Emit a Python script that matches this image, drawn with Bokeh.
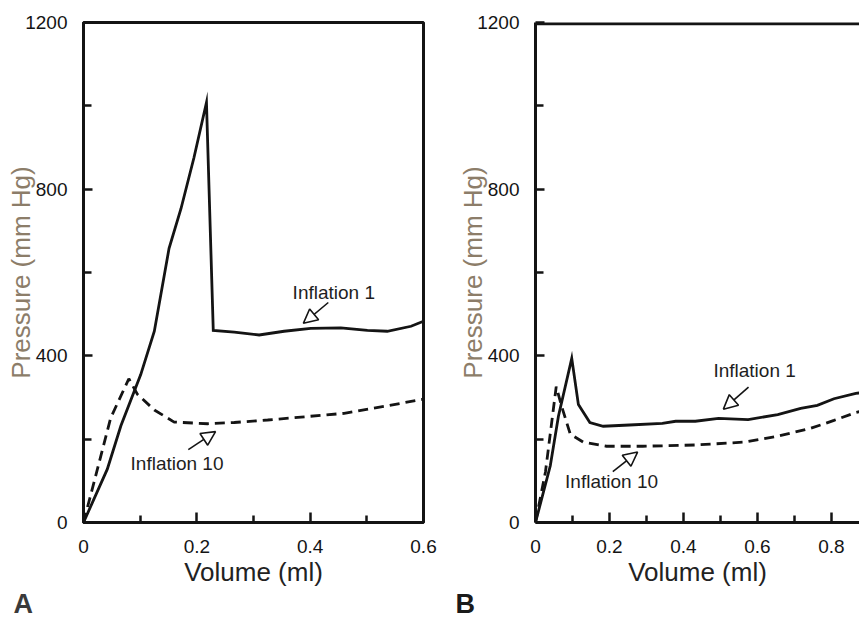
from bokeh.plotting import figure
from bokeh.layouts import row
from bokeh.models import FixedTicker, Label, Arrow, NormalHead, Span, Title
from bokeh.embed import file_html
from bokeh.resources import INLINE

# ---------------- data ----------------
# Panel A
a_vol_1 = [0, 0.042, 0.066, 0.101, 0.125, 0.151, 0.172, 0.195, 0.217, 0.229, 0.266,
           0.31, 0.354, 0.401, 0.454, 0.501, 0.536, 0.578, 0.6]
a_pres_1 = [0, 128, 232, 355, 459, 658, 753, 876, 1008, 461, 457,
            450, 459, 466, 467, 461, 459, 471, 483]
a_vol_10 = [0, 0.019, 0.048, 0.080, 0.095, 0.125, 0.16, 0.219, 0.266, 0.325,
            0.384, 0.46, 0.531, 0.6]
a_pres_10 = [0, 99, 251, 345, 308, 270, 241, 237, 240, 246, 253, 262, 279, 296]

# Panel B
b_vol_1 = [0, 0.040, 0.062, 0.098, 0.116, 0.147, 0.183, 0.254, 0.343, 0.379, 0.432,
           0.495, 0.575, 0.655, 0.717, 0.762, 0.807, 0.866, 0.876]
b_pres_1 = [0, 136, 255, 394, 283, 240, 231, 234, 238, 243, 243,
            250, 247, 259, 274, 281, 297, 310, 311]
b_vol_10 = [0, 0.027, 0.056, 0.071, 0.094, 0.129, 0.192, 0.29, 0.432, 0.566,
            0.655, 0.744, 0.807, 0.866, 0.876]
b_pres_10 = [0, 122, 326, 278, 212, 193, 183, 183, 186, 193, 207, 226, 245, 264, 266]

y_ticks = [0, 400, 800, 1200]
y_tick_labels = ["0", "400", "800", "1200"]
y_minor = [200, 600, 1000]
a_x_ticks = [0, 0.2, 0.4, 0.6]
a_x_tick_labels = ["0", "0.2", "0.4", "0.6"]
a_x_minor = [0.1, 0.3, 0.5]
b_x_ticks = [0, 0.2, 0.4, 0.6, 0.8]
b_x_tick_labels = ["0", "0.2", "0.4", "0.6", "0.8"]
b_x_minor = [0.1, 0.3, 0.5, 0.7]

FONT = "Liberation Sans"
INK = "#141414"
YLAB = "#8c7d69"


def make_panel(width, x_end, border_left, border_right, xt, xtl, xm,
               v1, p1, v10, p10, full_box):
    p = figure(width=width, height=619, x_range=(0, x_end), y_range=(0, 1200),
               output_backend="svg", toolbar_location=None,
               min_border_left=border_left, min_border_right=border_right,
               min_border_top=22, min_border_bottom=97)
    p.grid.visible = False
    p.background_fill_color = "white"
    p.border_fill_color = "white"
    if full_box:
        p.outline_line_color = INK
        p.outline_line_width = 3
        p.outline_line_alpha = 1.0
    else:
        p.outline_line_color = None
        p.add_layout(Span(location=1200, dimension="width", line_color=INK,
                          line_width=5.5))

    for ax, ticks, labels, minor, tin, mtin in (
            (p.xaxis[0], xt, xtl, xm, 10, 7),
            (p.yaxis[0], y_ticks, y_tick_labels, y_minor, 9, 8)):
        ax.ticker = FixedTicker(ticks=ticks, minor_ticks=minor)
        ax.major_label_overrides = {t: l for t, l in zip(ticks, labels)}
        ax.axis_line_width = 3
        ax.axis_line_color = INK
        ax.major_tick_in = tin
        ax.major_tick_out = 0
        ax.minor_tick_in = mtin
        ax.minor_tick_out = 0
        ax.major_tick_line_width = 2.5
        ax.minor_tick_line_width = 2.5
        ax.major_tick_line_color = INK
        ax.minor_tick_line_color = INK
        ax.major_label_text_font = FONT
        ax.major_label_text_font_size = "19px"
        ax.major_label_text_color = INK
        ax.axis_label_text_font = FONT
        ax.axis_label_text_font_size = "26px"
        ax.axis_label_text_font_style = "normal"

    p.xaxis.axis_label = "Volume (ml)"
    p.xaxis.axis_label_text_color = "#222222"
    p.xaxis.major_label_standoff = 17
    p.xaxis.axis_label_standoff = 1
    p.yaxis.axis_label = "Pressure (mm Hg)"
    p.yaxis.axis_label_text_color = YLAB
    p.yaxis.major_label_standoff = 16
    p.yaxis.axis_label_standoff = -14

    p.line(v1, p1, line_color=INK, line_width=2.8, line_join="miter")
    p.line(v10, p10, line_color=INK, line_width=2.8, line_dash="10 6")
    return p


pa = make_panel(445, 0.6, 83, 22, a_x_ticks, a_x_tick_labels, a_x_minor,
                a_vol_1, a_pres_1, a_vol_10, a_pres_10, True)
pb = make_panel(414, 0.876, 90, 0, b_x_ticks, b_x_tick_labels, b_x_minor,
                b_vol_1, b_pres_1, b_vol_10, b_pres_10, False)


def annotate(p, x, y, text, xs, ys, xe, ye):
    p.add_layout(Label(x=x, y=y, text=text, text_font=FONT, text_font_size="19px",
                       text_color="#1e1e1e", text_baseline="middle"))
    p.add_layout(Arrow(x_start=xs, y_start=ys, x_end=xe, y_end=ye,
                       line_color=INK, line_width=1.6,
                       end=NormalHead(size=14, fill_color="white",
                                      line_color=INK, line_width=1.6)))


annotate(pa, 0.369, 552, "Inflation 1", 0.432, 528, 0.388, 478)
annotate(pa, 0.083, 142, "Inflation 10", 0.185, 175, 0.233, 218)
annotate(pb, 0.481, 366, "Inflation 1", 0.576, 325, 0.508, 272)
annotate(pb, 0.08, 98, "Inflation 10", 0.209, 122, 0.276, 169)

# panel letters, placed below the x-axis title
pa.add_layout(Title(text="A", align="left", offset=-70, standoff=-5,
                    text_font=FONT, text_font_size="27px", text_font_style="bold",
                    text_color="#3a3a3a"), "below")
pb.add_layout(Title(text="B", align="left", offset=-80, standoff=-5,
                    text_font=FONT, text_font_size="27px", text_font_style="bold",
                    text_color="#1a1a1a"), "below")

layout = row(pa, pb)
open("out.html", "w").write(file_html(layout, INLINE))
